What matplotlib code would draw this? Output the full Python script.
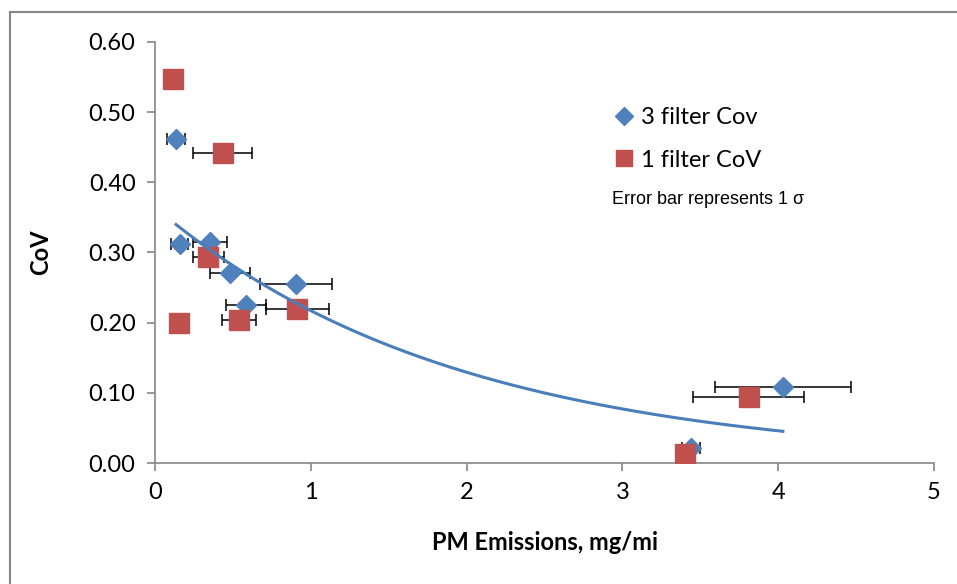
import numpy as np
import matplotlib
matplotlib.use("Agg")
import matplotlib.pyplot as plt
from matplotlib.lines import Line2D

# 3 filter CoV (blue diamonds)
pm3 = [0.135, 0.160, 0.353, 0.481, 0.582, 0.903, 3.44, 4.03]
cov3 = [0.462, 0.312, 0.315, 0.271, 0.225, 0.255, 0.022, 0.108]
err3 = [0.060, 0.055, 0.110, 0.128, 0.128, 0.230, 0.060, 0.436]

# 1 filter CoV (red squares)
pm1 = [0.113, 0.154, 0.342, 0.434, 0.541, 0.914, 3.40, 3.81]
cov1 = [0.547, 0.199, 0.294, 0.442, 0.204, 0.219, 0.013, 0.094]
err1 = [0.02, 0.02, 0.100, 0.187, 0.110, 0.200, 0.02, 0.358]

blue = "#4F81BD"
red = "#C0504D"
grey = "#868686"
font = "Lato"

fig = plt.figure(figsize=(9.57, 5.84), dpi=100)
ax = fig.add_axes([155 / 957, 1 - 463 / 584, (934 - 155) / 957, (463 - 42) / 584])

# error bars (x only)
ax.errorbar(pm3, cov3, xerr=err3, fmt="none", ecolor="black", elinewidth=1.1,
            capsize=4.5, capthick=1.1, zorder=2)
ax.errorbar(pm1, cov1, xerr=err1, fmt="none", ecolor="black", elinewidth=1.1,
            capsize=4.5, capthick=1.1, zorder=2)

ax.plot(pm3, cov3, linestyle="none", marker="D", ms=10, color=blue, zorder=3)
ax.plot(pm1, cov1, linestyle="none", marker="s", ms=14, color=red, zorder=4)

# exponential trendline fitted to the 3 filter points
b, lna = np.polyfit(pm3, np.log(cov3), 1)
xs = np.linspace(min(pm3), max(pm3), 200)
ax.plot(xs, np.exp(lna) * np.exp(b * xs), color="#4A7EBB", lw=2.2, zorder=5)

ax.set_xlim(0, 5)
ax.set_ylim(0, 0.6)
ax.set_xticks(range(0, 6))
ax.set_yticks(np.arange(0, 0.61, 0.1))
ax.yaxis.set_major_formatter(matplotlib.ticker.FormatStrFormatter("%.2f"))

for s in ["top", "right"]:
    ax.spines[s].set_visible(False)
for s in ["left", "bottom"]:
    ax.spines[s].set_color(grey)
    ax.spines[s].set_linewidth(1.2)
ax.tick_params(direction="out", length=6, width=1.2, color=grey,
               labelsize=17, pad=8)
for lab in ax.get_xticklabels() + ax.get_yticklabels():
    lab.set_fontfamily(font)

ax.set_xlabel("PM Emissions, mg/mi", fontsize=17, fontweight="bold",
              fontfamily=font, labelpad=20)
ax.set_ylabel("CoV", fontsize=17, fontweight="bold", fontfamily=font, labelpad=26)

handles = [Line2D([], [], linestyle="none", marker="D", ms=9, color=blue),
           Line2D([], [], linestyle="none", marker="s", ms=12, color=red)]
ax.legend(handles, ["3 filter Cov", "1 filter CoV"], loc="upper left",
          bbox_to_anchor=(603 / 957, 1 - 95 / 584), bbox_transform=fig.transFigure,
          frameon=False, prop={"family": font, "size": 17}, handlelength=0.8,
          handletextpad=0.3, labelspacing=0.92, borderpad=0)
fig.text(612 / 957, 1 - 200 / 584, "Error bar represents 1 \u03c3",
         fontsize=13, fontfamily="Liberation Sans", va="center")

# outer chart border (left and top edges visible)
fig.add_artist(Line2D([9.5 / 957, 9.5 / 957], [0, 1 - 12 / 584], color=grey,
                      lw=1.5, transform=fig.transFigure))
fig.add_artist(Line2D([9.5 / 957, 1], [1 - 12 / 584, 1 - 12 / 584], color=grey,
                      lw=1.5, transform=fig.transFigure))

fig.savefig("out.png", dpi=100)
